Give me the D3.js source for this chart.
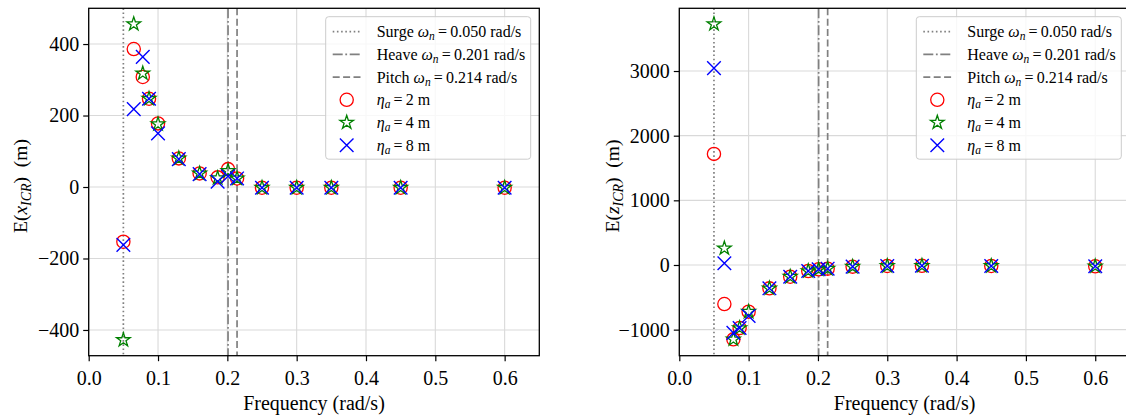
<!DOCTYPE html>
<html><head><meta charset="utf-8">
<script src="https://cdn.jsdelivr.net/npm/d3@7"></script>
<style>body{margin:0;background:#fff} svg{display:block} svg text{font-family:'Liberation Serif','Times New Roman',serif}</style>
</head><body><svg id="c" width="1126" height="419"></svg>
<script>
// ---- data ----
const freq = [0.05, 0.065, 0.078, 0.087, 0.1, 0.13, 0.16, 0.186, 0.201, 0.214, 0.25, 0.3, 0.35, 0.45, 0.6];
const xICR_eta2 = [-153, 386, 308, 247, 178, 80, 38, 27, 50, 24, -2, -2, -2, -2, -2];
const xICR_eta4 = [-428, 456, 318, 247, 176, 80, 38, 25, 45, 24, -2, -2, -2, -2, -2];
const xICR_eta8 = [-162, 218, 364, 247, 150, 78, 36, 15, 30, 24, -2, -2, -2, -2, -2];
const zICR_eta2 = [1718, -604, -1150, -975, -722, -361, -181, -93, -67, -57, -26, -15, -12, -15, -20];
const zICR_eta4 = [3726, 258, -1150, -975, -722, -361, -181, -93, -67, -57, -26, -15, -12, -15, -20];
const zICR_eta8 = [3045, 26, -1050, -975, -790, -361, -181, -93, -67, -57, -26, -15, -12, -15, -20];
const xTicks = [0.0, 0.1, 0.2, 0.3, 0.4, 0.5, 0.6];
const yTicksLeft = [-400, -200, 0, 200, 400];
const yTicksRight = [-1000, 0, 1000, 2000, 3000];
const xLim = [0, 0.65];
const yLimLeft = [-472, 500];
const yLimRight = [-1403, 3970];
const modeNames = ["Surge", "Heave", "Pitch"];
const modeFreqs = [0.050, 0.201, 0.214];
const waveAmps = [2, 4, 8];

// ---- styling ----
const FONT = "'Liberation Serif','Times New Roman',serif";
const GRAY = "#808080";
const modeDash = ["1.6,2.6", "10,2.6,1.8,2.6", "7,3.4"];
const ampColor = ["#ff0000", "#008000", "#0000ff"];
const ampShape = ["circle", "star", "x"];

const svg = d3.select("#c");
const yTop = 8.3, yBot = 355.7, W = 450.6;

function markerPath(shape, cx, cy) {
  if (shape === "circle") {
    const p = d3.path(); p.arc(cx, cy, 6.6, 0, 2 * Math.PI); return p.toString();
  }
  if (shape === "star") {
    return d3.symbol(d3.symbolStar, 58)().replace(/(-?[\d.]+),(-?[\d.]+)/g,
      (m, a, b) => (+a + cx) + "," + (+b + cy));
  }
  const s = 6.8, p = d3.path();
  p.moveTo(cx - s, cy - s); p.lineTo(cx + s, cy + s);
  p.moveTo(cx - s, cy + s); p.lineTo(cx + s, cy - s);
  return p.toString();
}
function styleMarker(sel, i) {
  sel.attr("fill", "none").attr("stroke", ampColor[i])
     .attr("stroke-width", ampShape[i] === "x" ? 1.4 : 1.3);
}

function panel(x0, yLim, yTicks, series, varLetter, ylabelX) {
  const g = svg.append("g");
  const x = d3.scaleLinear().domain(xLim).range([x0, x0 + W]);
  const y = d3.scaleLinear().domain(yLim).range([yBot, yTop]);

  // grid
  g.append("g").selectAll("line").data(xTicks).join("line")
    .attr("x1", d => x(d)).attr("x2", d => x(d)).attr("y1", yTop).attr("y2", yBot)
    .attr("stroke", "#d9d9d9").attr("stroke-width", 1.1);
  g.append("g").selectAll("line").data(yTicks).join("line")
    .attr("x1", x0).attr("x2", x0 + W).attr("y1", d => y(d)).attr("y2", d => y(d))
    .attr("stroke", "#d9d9d9").attr("stroke-width", 1.1);

  // natural frequency lines
  modeFreqs.forEach((w, i) => {
    g.append("line").attr("x1", x(w)).attr("x2", x(w)).attr("y1", yTop).attr("y2", yBot)
      .attr("stroke", GRAY).attr("stroke-width", 1.7).attr("stroke-dasharray", modeDash[i]);
  });

  // markers
  series.forEach((vals, i) => {
    g.append("g").selectAll("path").data(vals).join("path")
      .attr("d", (v, k) => markerPath(ampShape[i], x(freq[k]), y(v)))
      .call(styleMarker, i);
  });

  // axes
  const xa = g.append("g").attr("transform", `translate(0,${yBot})`)
    .call(d3.axisBottom(x).tickValues(xTicks).tickFormat(d3.format(".1f")).tickSize(5.5).tickPadding(5));
  const ya = g.append("g").attr("transform", `translate(${x0},0)`)
    .call(d3.axisLeft(y).tickValues(yTicks).tickFormat(d3.format("d")).tickSize(5.5).tickPadding(4));
  [xa, ya].forEach(a => {
    a.attr("font-family", FONT).attr("font-size", 20);
    a.select(".domain").remove();
    a.selectAll(".tick line").attr("stroke", "#000").attr("stroke-width", 1.2);
    a.selectAll(".tick text").attr("fill", "#000").attr("font-family", FONT)
      .style("font-family", FONT).style("font-size", "20px");
  });
  xa.selectAll(".tick text").attr("dy", "0.93em");

  // frame
  g.append("rect").attr("x", x0).attr("y", yTop).attr("width", W).attr("height", yBot - yTop)
    .attr("fill", "none").attr("stroke", "#000").attr("stroke-width", 1.3);

  // x label
  g.append("text").attr("x", x0 + W / 2).attr("y", 410).attr("text-anchor", "middle")
    .style("font-family", FONT).style("font-size", "20px").text("Frequency (rad/s)");

  // y label
  const yl = g.append("text").attr("transform", `translate(${ylabelX},${(yTop + yBot) / 2 + 4}) rotate(-90)`)
    .attr("text-anchor", "middle").attr("dy", "0.35em")
    .style("font-family", FONT).style("font-size", "19.5px");
  yl.append("tspan").text("E(");
  yl.append("tspan").style("font-style", "italic").text(varLetter);
  yl.append("tspan").style("font-style", "italic").style("font-size", "14px").attr("dy", 4).text("ICR");
  yl.append("tspan").attr("dy", -4).text(")\u00a0\u00a0(m)");

  // legend
  const lx = x0 + W - 8.6 - 205, ly = 16.7;
  const lg = g.append("g");
  lg.append("rect").attr("x", lx).attr("y", ly).attr("width", 205).attr("height", 142.5).attr("rx", 3)
    .attr("fill", "#fff").attr("fill-opacity", 0.8).attr("stroke", "#cccccc").attr("stroke-width", 1);
  const rowY = k => ly + 15 + k * 22.7;
  const hx0 = lx + 7, hx1 = lx + 35, tx = lx + 51;
  modeNames.forEach((nm, i) => {
    lg.append("line").attr("x1", hx0).attr("x2", hx1).attr("y1", rowY(i)).attr("y2", rowY(i))
      .attr("stroke", GRAY).attr("stroke-width", 1.7).attr("stroke-dasharray", modeDash[i]);
    const t = lg.append("text").attr("x", tx).attr("y", rowY(i)).attr("dy", "0.35em")
      .style("font-family", FONT).style("font-size", "16px");
    t.append("tspan").text(nm + " ");
    t.append("tspan").style("font-style", "italic").text("\u03c9");
    t.append("tspan").style("font-style", "italic").style("font-size", "11.5px").attr("dy", 3).text("n");
    t.append("tspan").attr("dy", -3).text("\u2009=\u2009" + d3.format(".3f")(modeFreqs[i]) + " rad/s");
  });
  waveAmps.forEach((a, i) => {
    const k = i + 3;
    lg.append("path").attr("d", markerPath(ampShape[i], (hx0 + hx1) / 2, rowY(k))).call(styleMarker, i);
    const t = lg.append("text").attr("x", tx).attr("y", rowY(k)).attr("dy", "0.35em")
      .style("font-family", FONT).style("font-size", "16px");
    t.append("tspan").style("font-style", "italic").text("\u03b7");
    t.append("tspan").style("font-style", "italic").style("font-size", "11.5px").attr("dy", 3).text("a");
    t.append("tspan").attr("dy", -3).text("\u2009=\u2009" + a + " m");
  });
}

panel(88.7, yLimLeft, yTicksLeft, [xICR_eta2, xICR_eta4, xICR_eta8], "x", 20);
panel(679.3, yLimRight, yTicksRight, [zICR_eta2, zICR_eta4, zICR_eta8], "z", 612);
</script></body></html>
